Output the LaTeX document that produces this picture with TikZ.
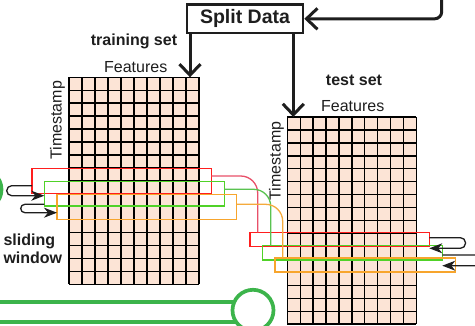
\documentclass[tikz,border=0pt]{standalone}
\usepackage{fontspec}
\setmainfont{Liberation Sans}
\usetikzlibrary{arrows.meta}
\definecolor{cellfill}{RGB}{252,228,214}
\definecolor{wred}{RGB}{255,30,30}
\definecolor{wgreen}{RGB}{80,210,40}
\definecolor{worange}{RGB}{247,165,45}
\definecolor{cred}{RGB}{232,80,105}
\definecolor{cgreen}{RGB}{90,195,80}
\definecolor{corange}{RGB}{245,170,60}
\definecolor{pipegreen}{RGB}{60,180,75}
\definecolor{ink}{RGB}{30,30,30}
\tikzset{
  gridbox/.style={fill=cellfill, draw=none, inner sep=0pt, outer sep=0pt, anchor=north west},
  gridline/.style={draw=black, line width=1.4pt},
  win/.style={draw=#1, line width=1.5pt, inner sep=0pt, outer sep=0pt, anchor=north west},
  cur/.style={draw=#1, line width=1.3pt, rounded corners=17pt},
  slidearrow/.style={draw=ink, line width=1.3pt, rounded corners=5pt, -{Stealth[length=13pt,width=10pt,inset=4pt]}},
  bigarrow/.style={draw=ink, line width=3pt, -{Straight Barb[length=11pt,width=21pt]}},
  pipe/.style={draw=pipegreen, line width=4pt},
  pipeend/.style={circle, draw=pipegreen, line width=3.7pt, minimum size=41pt, inner sep=0pt},
  lbl/.style={text=ink, inner sep=0pt, font=\fontsize{16}{18.5}\selectfont},
  blbl/.style={text=ink, inner sep=0pt, font=\fontsize{16}{18.5}\selectfont\bfseries},
  splitbox/.style={draw=ink, line width=2.6pt, fill=white, minimum width=116pt, minimum height=28.5pt, inner sep=0pt, font=\fontsize{19.5}{22}\selectfont\bfseries, text=ink}
}
\begin{document}
\begin{tikzpicture}[x=1pt,y=-1pt]
\clip (0,0) rectangle (475,326);
\fill[white] (0,0) rectangle (475,326);

% green pipe pieces
\node[pipeend] (pipeL) at (-19,189.5) {};
\node[pipeend] (pipeB) at (253,310.3) {};
\draw[pipe] (-5,301.7) -- (234.4,301.7);
\draw[pipe] (-5,321.7) -- (236,321.7);

% left grid
\node[gridbox, minimum width=130pt, minimum height=207pt] (gridL) at (69,77.3) {};
\foreach \i in {0,...,10} \draw[gridline] (69+\i*13,77.3) -- (69+\i*13,284.3);
\foreach \j in {0,...,16} \draw[gridline] (69,77.3+\j*12.9375) -- (199,77.3+\j*12.9375);

% right grid
\node[gridbox, minimum width=129pt, minimum height=207.2pt] (gridR) at (287.3,117) {};
\foreach \i in {0,...,10} \draw[gridline] (287.3+\i*12.9,117) -- (287.3+\i*12.9,324.2);
\foreach \j in {0,...,16} \draw[gridline] (287.3,117+\j*12.95) -- (416.3,117+\j*12.95);

% labels
\node[blbl] (trainlbl) at (134,41.7) {training set};
\node[lbl] (featL) at (135.7,66.7) {Features};
\node[blbl] (testlbl) at (354,80) {test set};
\node[lbl] (featR) at (352.7,106) {Features};
\node[lbl, rotate=90] (tsL) at (57.5,120.3) {Timestamp};
\node[lbl, rotate=90] (tsR) at (276.5,161) {Timestamp};
\node[blbl, align=left, anchor=west] (sw) at (3.3,249) {sliding\\window};

% split data
\node[splitbox] (split) at (245,18.8) {Split Data};
\draw[bigarrow] (split.south -| 190,0) -- (190,0 |- gridL.north);
\draw[bigarrow] (split.south -| 293.3,0) -- (293.3,0 |- gridR.north);
\draw[bigarrow, rounded corners=7pt] (441.7,-3) |- (split.east);

% left windows
\node[win=wred, minimum width=179.3pt, minimum height=25pt] (winLr) at (32,168.3) {};
\node[win=wgreen, minimum width=180pt, minimum height=24.7pt] (winLg) at (44.3,181.3) {};
\node[win=worange, minimum width=179.7pt, minimum height=25.4pt] (winLo) at (57,194.3) {};

% right windows
\node[win=wred, minimum width=179.3pt, minimum height=14.4pt] (winRr) at (250,232.3) {};
\node[win=wgreen, minimum width=180pt, minimum height=14.3pt] (winRg) at (262.3,245.7) {};
\node[win=worange, minimum width=180.3pt, minimum height=14pt] (winRo) at (275,258) {};

% connecting curves
\draw[cur=cred] (winLr.east |- 0,176) -- (257.7,176) -- (257.7,0 |- winRr.north);
\draw[cur=cgreen] (winLg.east |- 0,189.3) -- (270.7,189.3) -- (270.7,0 |- winRg.north);
\draw[cur=corange] (winLo.east |- 0,204.3) -- (282.7,204.3) -- (282.7,0 |- winRo.north);

% sliding arrows left
\draw[slidearrow] (winLr.west |- 0,185.7) -- (6.7,185.7) -- (6.7,195.7) -- (winLg.west |- 0,195.7);
\draw[slidearrow, rounded corners=4.2pt] (winLg.west |- 0,204.3) -- (20.7,204.3) -- (20.7,212.7) -- (winLo.west |- 0,212.7);

% sliding arrows right
\draw[slidearrow] (winRr.east |- 0,237.7) -- (465.5,237.7) -- (465.5,248.3) -- (winRr.east |- 0,248.3);
\draw[slidearrow] (winRg.east |- 0,255) -- (481,255) -- (481,265.7) -- (winRg.east |- 0,265.7);
\end{tikzpicture}
\end{document}
